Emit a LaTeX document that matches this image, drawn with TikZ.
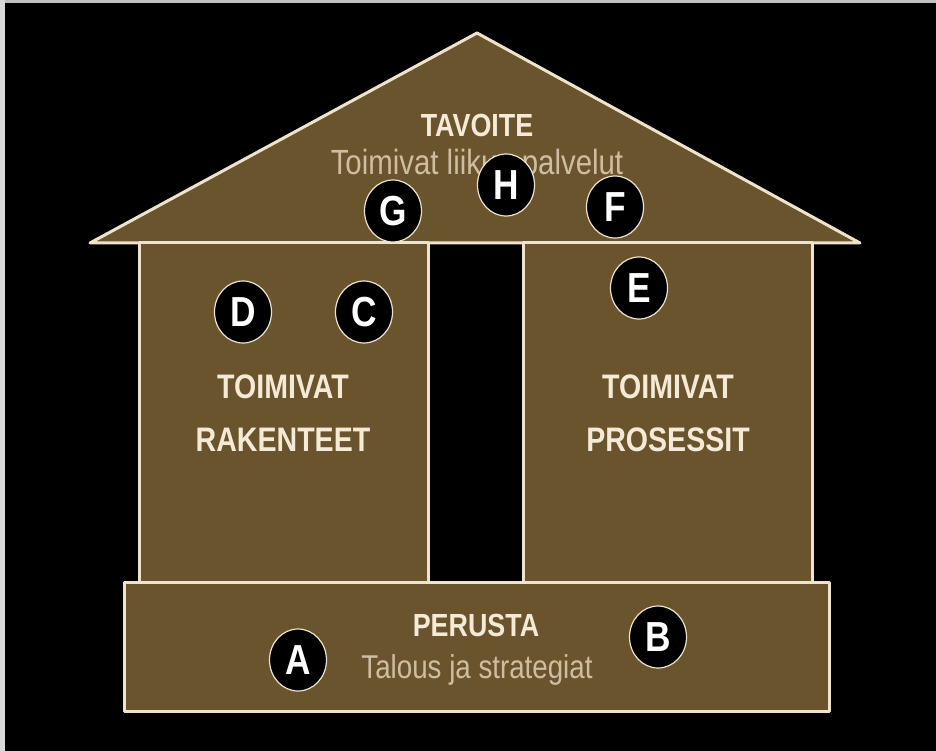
\documentclass[tikz,border=0pt]{standalone}
\usepackage{fontspec}
\setmainfont{Liberation Sans}
\newfontfamily\cond[FakeStretch=0.84]{Liberation Sans}
\usetikzlibrary{shapes.geometric}
\definecolor{housebrown}{RGB}{106,84,46}
\definecolor{creamline}{RGB}{238,228,206}
\definecolor{creamtext}{RGB}{244,234,214}
\definecolor{softtext}{RGB}{205,190,162}
\tikzset{
  outline/.style={fill=housebrown, draw=creamline, line width=3pt, line join=round},
  title/.style={text=creamtext, font=\cond\bfseries\fontsize{34}{38}\selectfont, inner sep=0pt},
  sub/.style={text=softtext, font=\cond\fontsize{33}{38}\selectfont, inner sep=0pt},
  letter/.style={ellipse, fill=black, draw=creamline, line width=1.2pt, minimum width=57pt, minimum height=62pt, inner sep=0pt, text=white, font=\cond\bfseries\fontsize{42}{44}\selectfont}
}
\begin{document}
\begin{tikzpicture}[x=1pt,y=-1pt]
\useasboundingbox (0,0) rectangle (936,751);
\fill[black] (-1,-1) rectangle (937,752);
\fill[black!25] (0,0) rectangle (936,3);
\fill[black!15] (0,0) rectangle (5,751);
% roof
\draw[outline] (90,243) -- (477,33) -- (860,243) -- cycle;
% walls
\draw[outline] (139,243) rectangle (428,582);
\draw[outline] (523,243) rectangle (812,582);
% base
\draw[outline] (124,582) rectangle (829,711);
% texts
\node[title, font=\cond\bfseries\fontsize{32}{36}\selectfont] (tavoite) at (477,125) {TAVOITE};
\node[sub, font=\cond\fontsize{35}{40}\selectfont] (toimivat) at (477,165) {Toimivat liikun palvelut};
\node[title] (tl1) at (283,387) {TOIMIVAT};
\node[title] (tl2) at (283,440) {RAKENTEET};
\node[title] (tr1) at (668,387) {TOIMIVAT};
\node[title] (tr2) at (668,440) {PROSESSIT};
\node[title, font=\cond\bfseries\fontsize{32}{36}\selectfont] (perusta) at (476,625) {PERUSTA};
\node[sub] (talous) at (477,670) {Talous ja strategiat};
% letters
\node[letter] (a) at (298,660) {A};
\node[letter] (b) at (658,637) {B};
\node[letter] (c) at (364,312) {C};
\node[letter] (d) at (243,312) {D};
\node[letter] (e) at (639,288) {E};
\node[letter] (f) at (615,207) {F};
\node[letter] (g) at (393,211) {G};
\node[letter] (h) at (506,185) {H};
\end{tikzpicture}
\end{document}
